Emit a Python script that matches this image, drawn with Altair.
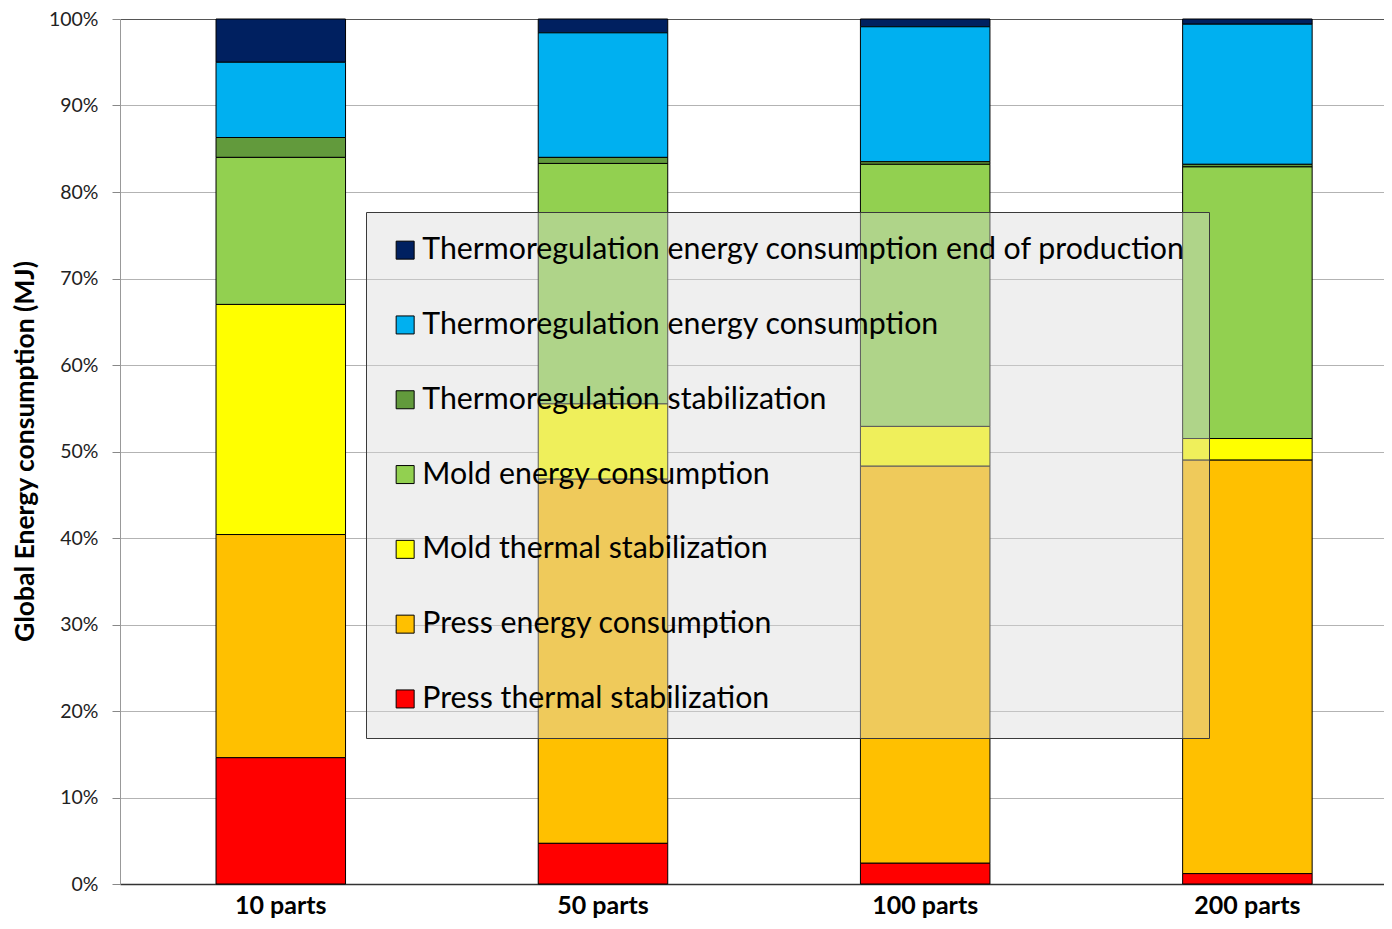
import altair as alt
import pandas as pd

categories = ["10 parts", "50 parts", "100 parts", "200 parts"]
series = [
    "Thermoregulation energy consumption end of production",
    "Thermoregulation energy consumption",
    "Thermoregulation stabilization",
    "Mold energy consumption",
    "Mold thermal stabilization",
    "Press energy consumption",
    "Press thermal stabilization",
]
colors = ["#002060", "#00b0f0", "#629a3c", "#92d050", "#ffff00", "#ffc000", "#ff0000"]

thermo_end = [5.0, 1.6, 0.9, 0.6]
thermo_cons = [8.7, 14.4, 15.6, 16.2]
thermo_stab = [2.3, 0.7, 0.3, 0.3]
mold_cons = [17.0, 27.8, 30.3, 31.4]
mold_stab = [26.6, 8.7, 4.6, 2.5]
press_cons = [25.8, 42.1, 45.9, 47.8]
press_stab = [14.6, 4.7, 2.4, 1.2]

values = [thermo_end, thermo_cons, thermo_stab, mold_cons, mold_stab, press_cons, press_stab]
rows = []
for si, (name, vals) in enumerate(zip(series, values)):
    for c, v in zip(categories, vals):
        rows.append({"cat": c, "series": name, "value": v, "order": len(series) - 1 - si})
df = pd.DataFrame(rows)

FONT = "Lato"

chart = alt.Chart(df).mark_bar(stroke="black", strokeWidth=1).encode(
    x=alt.X(
        "cat:N",
        sort=categories,
        scale=alt.Scale(paddingInner=0.598, paddingOuter=0.2605, align=0.572),
        axis=alt.Axis(
            title=None, labelAngle=0, labelFont=FONT, labelFontWeight="bold",
            labelFontSize=25, labelColor="black", labelPadding=9, ticks=False,
            domainColor="#333333", domainWidth=1.5, grid=False,
        ),
    ),
    y=alt.Y(
        "value:Q",
        stack="normalize",
        scale=alt.Scale(domain=[0, 1]),
        axis=alt.Axis(
            title="Global Energy consumption (MJ)", format=".0%",
            values=[i / 10 for i in range(11)],
            labelFont=FONT, labelFontSize=19.5, labelColor="#222222", labelPadding=14,
            tickSize=8, tickColor="#888888", domainColor="#999999",
            gridColor=alt.condition("datum.value == 1", alt.value("#555555"), alt.value("#b3b3b3")),
            gridWidth=1.2,
            titleFont=FONT, titleFontSize=26.5, titleFontWeight="bold", titleColor="black",
            titleX=-95, titleY=432, titleAlign="center", titleBaseline="middle",
        ),
    ),
    color=alt.Color(
        "series:N",
        scale=alt.Scale(domain=series, range=colors),
        legend=alt.Legend(
            title=None, orient="none", legendX=246, legendY=193,
            fillColor="rgba(218,218,218,0.42)", strokeColor="#3a3a3a",
            padding=23, symbolType="square", symbolSize=324, symbolOffset=1,
            symbolStrokeColor="black", symbolStrokeWidth=1, symbolOpacity=1,
            labelFont=FONT, labelFontSize=30.3, labelColor="black",
            labelLimit=1200, rowPadding=43.8, labelOffset=2,
        ),
    ),
    order=alt.Order("order:Q", sort="ascending"),
).properties(
    width=1264, height=865,
    padding={"left": 112, "top": 11, "right": 0, "bottom": 35},
    autosize=alt.AutoSizeParams(type="none"),
).configure_view(stroke=None).configure(background="white")

chart.save("out.html", embed_options={"renderer": "svg", "actions": False})
